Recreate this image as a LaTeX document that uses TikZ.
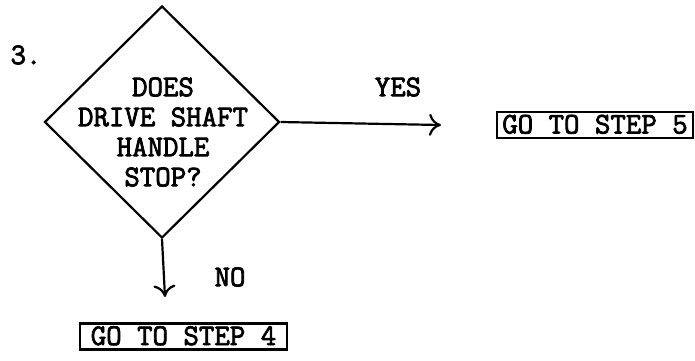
\documentclass[tikz,border=0pt]{standalone}
\usepackage{fontspec}
\newfontfamily\tw{Latin Modern Mono}[FakeBold=2.6]
\usetikzlibrary{shapes.geometric,arrows.meta}
\begin{document}
\begin{tikzpicture}[x=1pt,y=-1pt,line width=2.2pt,
  txt/.style={font=\tw\fontsize{30}{30}\selectfont,inner sep=0pt},
  box/.style={txt,draw,line width=2.2pt,text height=17pt,text depth=0pt,inner ysep=4.5pt,inner xsep=4pt},
  arr/.style={-{To[length=12pt,width=22pt,line width=2.2pt]}}]
\useasboundingbox (0,0) rectangle (695,360);
\node[draw,diamond,minimum width=235pt,minimum height=232pt,inner sep=0pt] (d) at (162,122) {};
\node[txt,align=center] (q) at (163,132) {DOES\\DRIVE SHAFT\\HANDLE\\STOP?};
\node[txt] (num) at (26,55) {3.};
\node[box,minimum width=196pt] (s5) at (595,125) {GO TO STEP 5};
\node[box,minimum width=207pt] (s4) at (183.5,336.5) {GO TO STEP 4};
\coordinate (e5) at (441,125);
\coordinate (e4) at (165,297);
\draw[arr] (d.east) -- (e5);
\draw[arr] (d.south) -- (e4);
\node[txt] (yes) at (398,87) {YES};
\node[txt] (no) at (230,277) {NO};
\end{tikzpicture}
\end{document}
